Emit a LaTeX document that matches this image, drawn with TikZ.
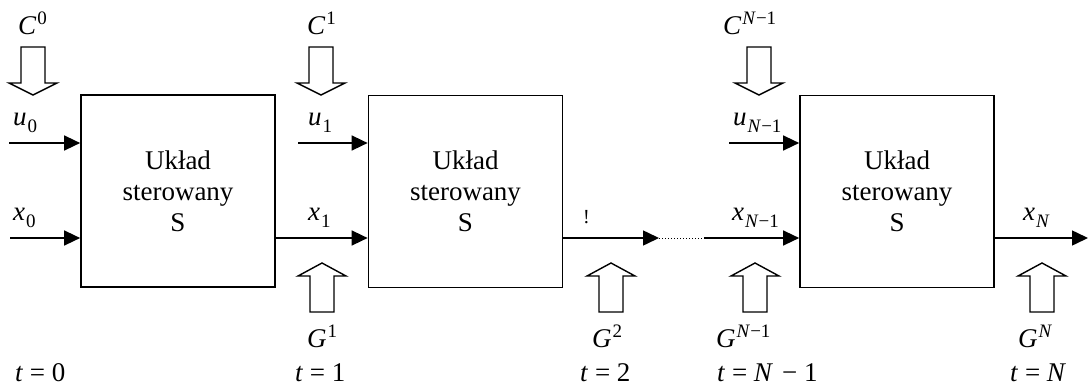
\documentclass[tikz,border=0pt]{standalone}
\usepackage{fontspec}
\setmainfont{Liberation Serif}
\usetikzlibrary{arrows.meta}
\newcommand{\supx}[1]{\kern1pt\raisebox{10pt}{\fontsize{19}{19}\selectfont #1}}
\newcommand{\subx}[1]{\kern1pt\raisebox{-7pt}{\fontsize{19}{19}\selectfont #1}}
\newcommand{\hollowdn}[2]{\draw[hollow] (#1,#2) -- ++(-24,-12) -- ++(12,0) -- ++(0,-36) -- ++(24,0) -- ++(0,36) -- ++(12,0) -- cycle;}
\newcommand{\hollowup}[2]{\draw[hollow] (#1,#2) -- ++(-24,13) -- ++(12,0) -- ++(0,36) -- ++(24,0) -- ++(0,-36) -- ++(12,0) -- cycle;}
\begin{document}
\begin{tikzpicture}[x=1pt,y=-1pt,
  every node/.style={font=\fontsize{27}{31}\selectfont, inner sep=0pt},
  sys/.style={draw, line width=1.7pt, minimum width=194pt, minimum height=192pt, align=center},
  lbl/.style={anchor=base west},
  flow/.style={line width=1.5pt, -{Triangle[length=16pt,width=15pt]}},
  hollow/.style={draw, line width=1.4pt, fill=white, line join=miter}]
\useasboundingbox (0,0) rectangle (1089,391);
% systems
\node[sys] (b1) at (178,191) {Układ\\sterowany\\S};
\node[sys] (b2) at (465.5,191.5) {Układ\\sterowany\\S};
\node[sys] (b3) at (897,191.5) {Układ\\sterowany\\S};
% hollow arrows
\hollowdn{33}{95}
\hollowdn{321}{95}
\hollowdn{759}{95}
\hollowup{322}{263}
\hollowup{611}{263}
\hollowup{755}{263}
\hollowup{1042}{263}
% flows
\coordinate (u0s) at (9,143);
\coordinate (x0s) at (10,238);
\coordinate (u1s) at (298,143);
\coordinate (d1) at (659,238);
\coordinate (d2) at (704,238);
\coordinate (uNs) at (729,143);
\coordinate (xN) at (1088,238);
\draw[flow] (u0s) -- (u0s -| b1.west);
\draw[flow] (x0s) -- (x0s -| b1.west);
\draw[flow] (u1s) -- (u1s -| b2.west);
\draw[flow] (b1.east |- x0s) -- (b2.west |- x0s);
\draw[flow] (b2.east |- d1) -- (d1);
\draw[line width=1pt, dotted] (d1) -- (d2);
\draw[flow] (d2) -- (d2 -| b3.west);
\draw[flow] (uNs) -- (uNs -| b3.west);
\draw[flow] (b3.east |- xN) -- (xN);
% labels
\node[lbl] (lC0) at (18,34) {\textit{C}\supx{0}};
\node[lbl] (lC1) at (307,34) {\textit{C}\supx{1}};
\node[lbl] (lCN) at (723,34) {\textit{C}\supx{\textit{N}−1}};
\node[lbl] (lu0) at (13,125) {\textit{u}\subx{0}};
\node[lbl] (lu1) at (308,125) {\textit{u}\subx{1}};
\node[lbl] (luN) at (733,125) {\textit{u}\subx{\textit{N}−1}};
\node[lbl] (lx0) at (13,220) {\textit{x}\subx{0}};
\node[lbl] (lx1) at (308,220) {\textit{x}\subx{1}};
\node[lbl] (lxN1) at (732,220) {\textit{x}\subx{\textit{N}−1}};
\node[lbl] (lxN) at (1023,220) {\textit{x}\subx{\textit{N}}};
\node[lbl, font=\fontsize{20}{20}\selectfont] (excl) at (583,223) {!};
\node[lbl] (lG1) at (307,347) {\textit{G}\supx{1}};
\node[lbl] (lG2) at (592,347) {\textit{G}\supx{2}};
\node[lbl] (lGN1) at (716,347) {\textit{G}\supx{\textit{N}−1}};
\node[lbl] (lGN) at (1018,347) {\textit{G}\supx{\textit{N}}};
\node[lbl] (lt0) at (15,381) {\textit{t} = 0};
\node[lbl] (lt1) at (295,381) {\textit{t} = 1};
\node[lbl] (lt2) at (580,381) {\textit{t} = 2};
\node[lbl] (ltN1) at (717,381) {\textit{t} = \textit{N}\,\,− 1};
\node[lbl] (ltN) at (1010,381) {\textit{t} = \textit{N}};
\end{tikzpicture}
\end{document}
